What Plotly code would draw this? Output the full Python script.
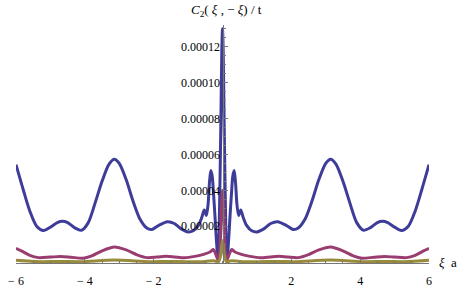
import plotly.graph_objects as go

# ---- data ----
blue_x = [-6.0, -5.8, -5.6, -5.4, -5.2, -5.0, -4.8, -4.65, -4.5, -4.3, -4.1, -3.9, -3.7, -3.5, -3.3, -3.14,
          -3.0, -2.8, -2.6, -2.4, -2.2, -2.05, -1.85, -1.6, -1.4, -1.2, -1.0, -0.85, -0.7, -0.6, -0.53, -0.47,
          -0.42, -0.38, -0.34, -0.30, -0.26, -0.22, -0.18, -0.14, -0.12, -0.09, -0.05, -0.02, 0.0,
          0.02, 0.05, 0.09, 0.12, 0.14, 0.18, 0.22, 0.26, 0.30, 0.34, 0.38, 0.42, 0.47, 0.53, 0.6, 0.7,
          0.85, 1.0, 1.2, 1.4, 1.6, 1.85, 2.05, 2.2, 2.4, 2.6, 2.8, 3.0, 3.14, 3.3, 3.5, 3.7, 3.9, 4.1, 4.3,
          4.5, 4.65, 4.8, 5.0, 5.2, 5.4, 5.6, 5.8, 6.0]
blue_y = [5.43e-5, 4.10e-5, 2.85e-5, 2.00e-5, 1.76e-5, 1.95e-5, 2.20e-5, 2.27e-5, 2.20e-5, 1.92e-5, 1.77e-5,
          2.20e-5, 3.30e-5, 4.50e-5, 5.45e-5, 5.73e-5, 5.50e-5, 4.60e-5, 3.40e-5, 2.40e-5, 1.90e-5, 1.82e-5,
          2.05e-5, 2.25e-5, 2.15e-5, 1.85e-5, 1.68e-5, 1.75e-5, 2.05e-5, 2.50e-5, 2.90e-5, 2.60e-5, 3.20e-5,
          4.40e-5, 5.10e-5, 4.80e-5, 3.80e-5, 2.60e-5, 1.30e-5, 0.30e-5, 0.10e-5, 2.50e-5, 7.50e-5, 1.18e-4,
          1.30e-4,
          1.18e-4, 7.50e-5, 2.50e-5, 0.10e-5, 0.30e-5, 1.30e-5, 2.60e-5, 3.80e-5, 4.80e-5, 5.10e-5, 4.40e-5,
          3.20e-5, 2.60e-5, 2.90e-5, 2.50e-5, 2.05e-5, 1.75e-5, 1.68e-5, 1.85e-5, 2.15e-5, 2.25e-5, 2.05e-5,
          1.82e-5, 1.90e-5, 2.40e-5, 3.40e-5, 4.60e-5, 5.50e-5, 5.73e-5, 5.45e-5, 4.50e-5, 3.30e-5, 2.20e-5,
          1.77e-5, 1.92e-5, 2.20e-5, 2.27e-5, 2.20e-5, 1.95e-5, 1.76e-5, 2.00e-5, 2.85e-5, 4.10e-5, 5.43e-5]

magenta_x = [-6.0, -5.8, -5.6, -5.35, -5.0, -4.7, -4.4, -4.05, -3.8, -3.5, -3.14, -2.8, -2.5, -2.2, -1.9,
             -1.65, -1.4, -1.1, -0.8, -0.55, -0.35, -0.27, -0.22, -0.17, -0.12, -0.08, -0.04, 0.0,
             0.04, 0.08, 0.12, 0.17, 0.22, 0.27, 0.35, 0.55, 0.8, 1.1, 1.4, 1.65, 1.9, 2.2, 2.5, 2.8, 3.14,
             3.5, 3.8, 4.05, 4.4, 4.7, 5.0, 5.35, 5.6, 5.8, 6.0]
magenta_y = [7.7e-6, 5.8e-6, 3.8e-6, 2.5e-6, 2.8e-6, 3.1e-6, 2.7e-6, 2.2e-6, 3.5e-6, 6.3e-6, 8.4e-6, 6.8e-6,
             4.2e-6, 2.5e-6, 2.8e-6, 3.2e-6, 2.9e-6, 2.4e-6, 3.2e-6, 4.3e-6, 5.8e-6, 7.0e-6, 5.5e-6, 3.0e-6,
             1.0e-6, 5.0e-6, 2.5e-5, 4.0e-5,
             2.5e-5, 5.0e-6, 1.0e-6, 3.0e-6, 5.5e-6, 7.0e-6, 5.8e-6, 4.3e-6, 3.2e-6, 2.4e-6, 2.9e-6, 3.2e-6,
             2.8e-6, 2.5e-6, 4.2e-6, 6.8e-6, 8.4e-6, 6.3e-6, 3.5e-6, 2.2e-6, 2.7e-6, 3.1e-6, 2.8e-6, 2.5e-6,
             3.8e-6, 5.8e-6, 7.7e-6]

olive_x = [-6.0, -5.3, -4.7, -4.1, -3.14, -2.1, -1.6, -1.0, -0.5, -0.25, -0.12, -0.06, 0.0,
           0.06, 0.12, 0.25, 0.5, 1.0, 1.6, 2.1, 3.14, 4.1, 4.7, 5.3, 6.0]
olive_y = [1.0e-6, 0.2e-6, 0.35e-6, 0.2e-6, 1.2e-6, 0.2e-6, 0.35e-6, 0.2e-6, 0.4e-6, 0.8e-6, 0.1e-6, 3.0e-6,
           1.2e-5,
           3.0e-6, 0.1e-6, 0.8e-6, 0.4e-6, 0.2e-6, 0.35e-6, 0.2e-6, 1.2e-6, 0.2e-6, 0.35e-6, 0.2e-6, 1.0e-6]

x_tickvals = [-6, -4, -2, 2, 4, 6]
x_ticktext = ["\u2212 6", "\u2212 4", "\u2212 2", "2", "4", "6"]
y_tickvals = [2e-5, 4e-5, 6e-5, 8e-5, 1.0e-4, 1.2e-4]
y_ticktext = ["0.00002", "0.00004", "0.00006", "0.00008", "0.00010", "0.00012"]

SERIF = "Liberation Serif, Times New Roman, serif"

fig = go.Figure()
for xs, ys, col in [(blue_x, blue_y, "rgb(61,61,153)"),
                    (magenta_x, magenta_y, "rgb(153,61,113)"),
                    (olive_x, olive_y, "rgb(153,139,61)")]:
    fig.add_trace(go.Scatter(x=xs, y=ys, mode="lines",
                             line=dict(color=col, width=3, shape="spline", smoothing=0.8),
                             showlegend=False, hoverinfo="skip"))

fig.update_layout(
    width=463, height=296,
    font=dict(family=SERIF, color="black"),
    margin=dict(l=8, r=34, t=25, b=17),
    paper_bgcolor="white", plot_bgcolor="white",
    xaxis=dict(range=[-6, 6], showgrid=False, zeroline=False,
               showline=True, linecolor="#777", linewidth=1,
               ticks="inside", ticklen=4, tickcolor="#777",
               tickvals=x_tickvals, ticktext=x_ticktext,
               minor=dict(dtick=0.5, tick0=0, ticks="inside", ticklen=2, tickcolor="#777"),
               tickfont=dict(family=SERIF, size=12, color="black"),
               ticklabeloverflow="allow",
               ticklabelstandoff=7),
    yaxis=dict(range=[-0.5e-6, 1.321e-4], showgrid=False, zeroline=False,
               anchor="free", position=0.5, side="left",
               showline=True, linecolor="#777", linewidth=1,
               ticks="inside", ticklen=4, tickcolor="#777",
               tickvals=y_tickvals, ticktext=y_ticktext,
               minor=dict(dtick=5e-6, tick0=0, ticks="inside", ticklen=2, tickcolor="#777"),
               tickfont=dict(family=SERIF, size=12, color="black")),
    annotations=[
        dict(text="<i>C</i><sub>2</sub>( <i>\u03be</i> , \u2212 <i>\u03be</i>) / t",
             xref="paper", yref="paper", x=0.51, y=1.06, xanchor="center", yanchor="middle",
             showarrow=False, font=dict(family=SERIF, size=13, color="black")),
        dict(text="<i>\u03be</i>  a", xref="paper", yref="y", x=1.02, y=0,
             xanchor="left", yanchor="middle", showarrow=False,
             font=dict(family=SERIF, size=13, color="black")),
    ],
)

fig.write_html("out.html", config={"displayModeBar": False},
               post_script="document.body.style.margin='0';")
